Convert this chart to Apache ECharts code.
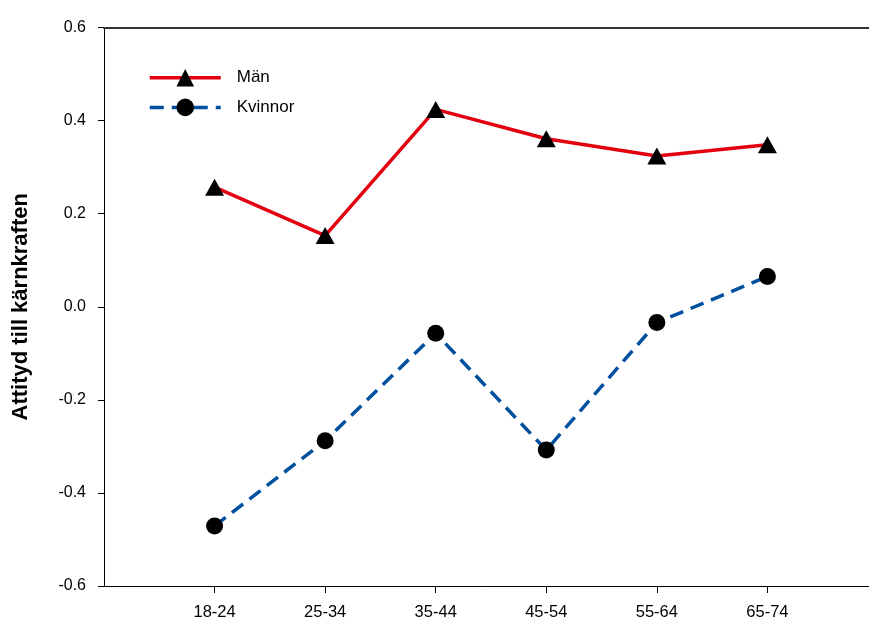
<!DOCTYPE html>
<html>
<head>
<meta charset="utf-8">
<script src="https://cdn.jsdelivr.net/npm/echarts@6/dist/echarts.min.js"></script>
<style>html,body{margin:0;padding:0;background:#fff;}#c{width:869px;height:622px;}</style>
</head>
<body>
<div id="c"></div>
<script>
const ageGroups = ['18-24', '25-34', '35-44', '45-54', '55-64', '65-74'];
const manValues = [0.257, 0.153, 0.424, 0.361, 0.324, 0.348];
const kvinnorValues = [-0.471, -0.288, -0.057, -0.308, -0.034, 0.065];
const yTicks = [-0.6, -0.4, -0.2, 0.0, 0.2, 0.4, 0.6];

const categories = [''].concat(ageGroups, ['']);
const chart = echarts.init(document.getElementById('c'), null, {renderer: 'canvas'});
const font = 'Liberation Sans, Arial, sans-serif';
chart.setOption({
  animation: false,
  backgroundColor: '#fff',
  grid: {left: 104, right: -9, top: 27.5, bottom: 36, outerBoundsMode: 'none', containLabel: false},
  legend: {
    orient: 'vertical',
    left: 143,
    top: 64,
    itemWidth: 71,
    itemHeight: 22,
    itemGap: 12,
    lineStyle: {width: 3.5},
    textStyle: {fontFamily: font, fontSize: 17, color: '#000', padding: [0, 0, 0, 11]},
    data: ['Män', 'Kvinnor']
  },
  xAxis: [{
    type: 'category',
    data: categories,
    boundaryGap: false,
    axisLine: {onZero: false, lineStyle: {color: '#000', width: 1}},
    axisTick: {show: true, length: 7, lineStyle: {color: '#000'}, interval: (i, v) => v !== ''},
    axisLabel: {fontFamily: font, fontSize: 16.5, color: '#000', margin: 18, interval: 0},
    splitLine: {show: false}
  }, {
    type: 'category',
    position: 'top',
    data: categories,
    boundaryGap: false,
    axisLine: {onZero: false, lineStyle: {color: '#333', width: 2}},
    axisTick: {show: false},
    axisLabel: {show: false}
  }],
  yAxis: {
    type: 'value',
    min: yTicks[0],
    max: yTicks[yTicks.length - 1],
    interval: 0.2,
    name: 'Attityd till kärnkraften',
    nameLocation: 'middle',
    nameGap: 72,
    nameRotate: 90,
    nameTextStyle: {fontFamily: font, fontSize: 22, fontWeight: 'bold', color: '#000'},
    axisLine: {show: true, onZero: false, lineStyle: {color: '#000', width: 1}},
    axisTick: {show: true, length: 6, lineStyle: {color: '#000'}},
    axisLabel: {fontFamily: font, fontSize: 16, color: '#000', margin: 18, formatter: v => v.toFixed(1)},
    splitLine: {show: false}
  },
  series: [{
    name: 'Män',
    type: 'line',
    data: ageGroups.map((a, i) => [a, manValues[i]]),
    symbol: 'triangle',
    symbolSize: [19, 17],
    itemStyle: {color: '#000'},
    lineStyle: {color: '#e3000f', width: 3.5},
    z: 3
  }, {
    name: 'Kvinnor',
    type: 'line',
    data: ageGroups.map((a, i) => [a, kvinnorValues[i]]),
    symbol: 'circle',
    symbolSize: 17,
    itemStyle: {color: '#000'},
    lineStyle: {color: '#0050a0', width: 3.5, type: [14, 8]},
    z: 3
  }]
});
</script>
</body>
</html>
